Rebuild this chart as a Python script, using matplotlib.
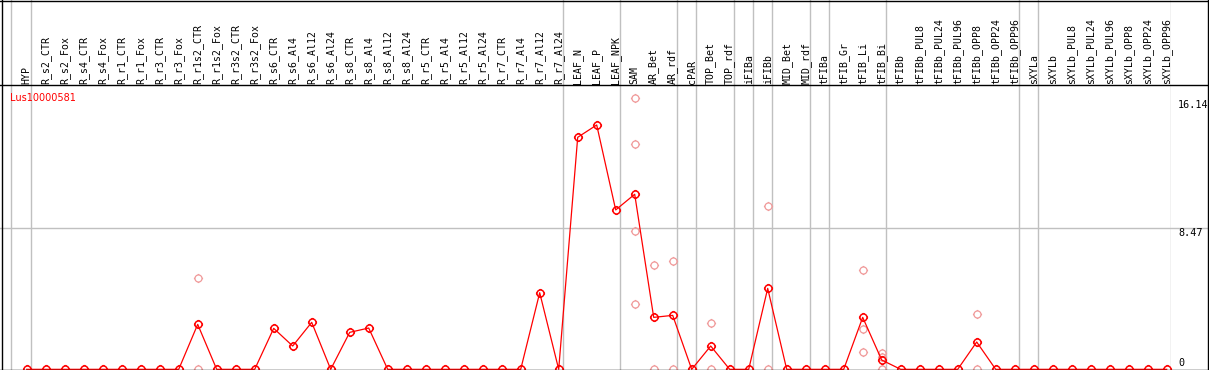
import numpy as np
import matplotlib
matplotlib.use("Agg")
import matplotlib.pyplot as plt
from matplotlib.path import Path
from matplotlib.lines import Line2D

# sample columns
labels = ["HYP",
          "R_s2_CTR", "R_s2_Fox", "R_s4_CTR", "R_s4_Fox", "R_r1_CTR", "R_r1_Fox",
          "R_r3_CTR", "R_r3_Fox", "R_r1s2_CTR", "R_r1s2_Fox", "R_r3s2_CTR", "R_r3s2_Fox",
          "R_s6_CTR", "R_s6_Al4", "R_s6_Al12", "R_s6_Al24",
          "R_s8_CTR", "R_s8_Al4", "R_s8_Al12", "R_s8_Al24",
          "R_r5_CTR", "R_r5_Al4", "R_r5_Al12", "R_r5_Al24",
          "R_r7_CTR", "R_r7_Al4", "R_r7_Al12", "R_r7_Al24",
          "LEAF_N", "LEAF_P", "LEAF_NPK",
          "SAM", "AR_Bet", "AR_rdf",
          "cPAR",
          "TOP_Bet", "TOP_rdf",
          "iFIBa",
          "iFIBb",
          "MID_Bet", "MID_rdf",
          "tFIBa",
          "tFIB_Gr", "tFIB_Li", "tFIB_Bi",
          "tFIBb", "tFIBb_PUL8", "tFIBb_PUL24", "tFIBb_PUL96",
          "tFIBb_OPP8", "tFIBb_OPP24", "tFIBb_OPP96",
          "sXYLa",
          "sXYLb", "sXYLb_PUL8", "sXYLb_PUL24", "sXYLb_PUL96",
          "sXYLb_OPP8", "sXYLb_OPP24", "sXYLb_OPP96"]
group_sizes = [1, 28, 3, 3, 1, 2, 1, 1, 2, 1, 3, 7, 1, 7]

means = [0, 0, 0, 0, 0, 0, 0, 0, 0, 2.70, 0, 0, 0,
         2.46, 1.40, 2.82, 0,
         2.22, 2.48, 0, 0,
         0, 0, 0, 0,
         0, 0, 4.60, 0,
         13.93, 14.67, 9.57,
         10.51, 3.12, 3.24,
         0,
         1.40, 0,
         0,
         4.86,
         0, 0,
         0,
         0, 3.12, 0.56,
         0, 0, 0, 0, 1.64, 0, 0,
         0,
         0, 0, 0, 0, 0, 0, 0]

replicates = {
    "R_r1s2_CTR": [5.47, 0.0],
    "SAM": [16.28, 13.51, 8.31, 3.90],
    "AR_Bet": [6.26, 0.0],
    "AR_rdf": [6.49, 0.0],
    "TOP_Bet": [2.78, 0.0],
    "iFIBb": [9.81, 0.0],
    "tFIB_Li": [5.95, 2.40, 1.02],
    "tFIB_Bi": [0.96, 0.72, 0.0],
    "tFIBb_OPP8": [3.30, 0.0],
}

gene = "Lus10000581"
y_top_label = 16.14
y_mid = 8.47
y_max = 17.07

W, H = 1209, 370
fig = plt.figure(figsize=(W / 100, H / 100), dpi=100)

# pixel layout
px_left, px_right = 1, 1170.7
px_head = 85
step, first = 19.0, 26.7
xlim = ((px_left - first) / step, (px_right - first) / step)

ax = fig.add_axes([px_left / W, 0, (px_right - px_left) / W, (H - px_head) / H])
hax = fig.add_axes([px_left / W, (H - px_head) / H, (px_right - px_left) / W, px_head / H], sharex=ax)
for a in (ax, hax):
    a.set_axis_off()
ax.set_xlim(*xlim)
ax.set_ylim(-0.04, y_max)

x = np.arange(len(labels))

# separators between groups
seps = [-0.84] + list(np.cumsum(group_sizes) - 1 + 0.21)
for s in seps:
    ax.axvline(s, color="#c0c0c0", lw=1.0, zorder=1)
    hax.axvline(s, color="#c0c0c0", lw=1.0, zorder=1)
ax.axhline(y_mid, xmin=-0.01, xmax=(1208 - px_left) / (px_right - px_left),
           color="#c0c0c0", lw=1.0, zorder=1, clip_on=False)

# marker: circle with four small ticks
circ = Path.unit_circle()
tv = [(0, 1), (0, 1.3), (0, -1), (0, -1.3), (1, 0), (1.3, 0), (-1, 0), (-1.3, 0)]
tc = [Path.MOVETO, Path.LINETO] * 4
marker = Path(np.vstack([circ.vertices, tv]), list(circ.codes) + tc)

for name, vals in replicates.items():
    i = labels.index(name)
    ax.plot([i] * len(vals), vals, ls="none", marker=marker, ms=6.6, mfc="none",
            mec="#f09a9a", mew=0.9, zorder=2, clip_on=False)

ax.plot(x, means, color="#ff0000", lw=0.9, marker=marker, ms=6.6, mfc="none",
        mec="#ff0000", mew=1.1, zorder=3, clip_on=False)

mono = "DejaVu Sans Mono"
for i, lab in enumerate(labels):
    hax.text(i, 1.5 / px_head, lab, rotation=90, ha="center", va="bottom",
             fontsize=7.1, family=mono, transform=hax.get_xaxis_transform())

ax.text((10 - px_left) / (px_right - px_left), (H - 101) / (H - px_head), gene,
        color="#ff0000", fontsize=7, family="DejaVu Sans", va="baseline",
        transform=ax.transAxes)

lx = (1178 - px_left) / (px_right - px_left)
yt = ax.get_yaxis_transform()
ax.text(lx, y_top_label, f"{y_top_label:.2f}", va="top", fontsize=7.3, family=mono,
        transform=yt, clip_on=False)
ax.text(lx, y_mid, f"{y_mid:.2f}", va="top", fontsize=7.3, family=mono,
        transform=yt, clip_on=False)
ax.text(lx, 0.1, "0", va="bottom", fontsize=7.3, family=mono, transform=yt, clip_on=False)

# outer frame and header divider
tf = fig.transFigure
for (xa, ya), (xb, yb) in [((1.5, 0), (1.5, 370)), ((1208, 0), (1208, 370)),
                           ((0, 0.5), (1209, 0.5)), ((0, 369.5), (1209, 369.5)),
                           ((0, px_head), (1209, px_head))]:
    fig.add_artist(Line2D([xa / W, xb / W], [1 - ya / H, 1 - yb / H], color="black",
                          lw=1.0, transform=tf))

fig.savefig("out.png", dpi=100)
